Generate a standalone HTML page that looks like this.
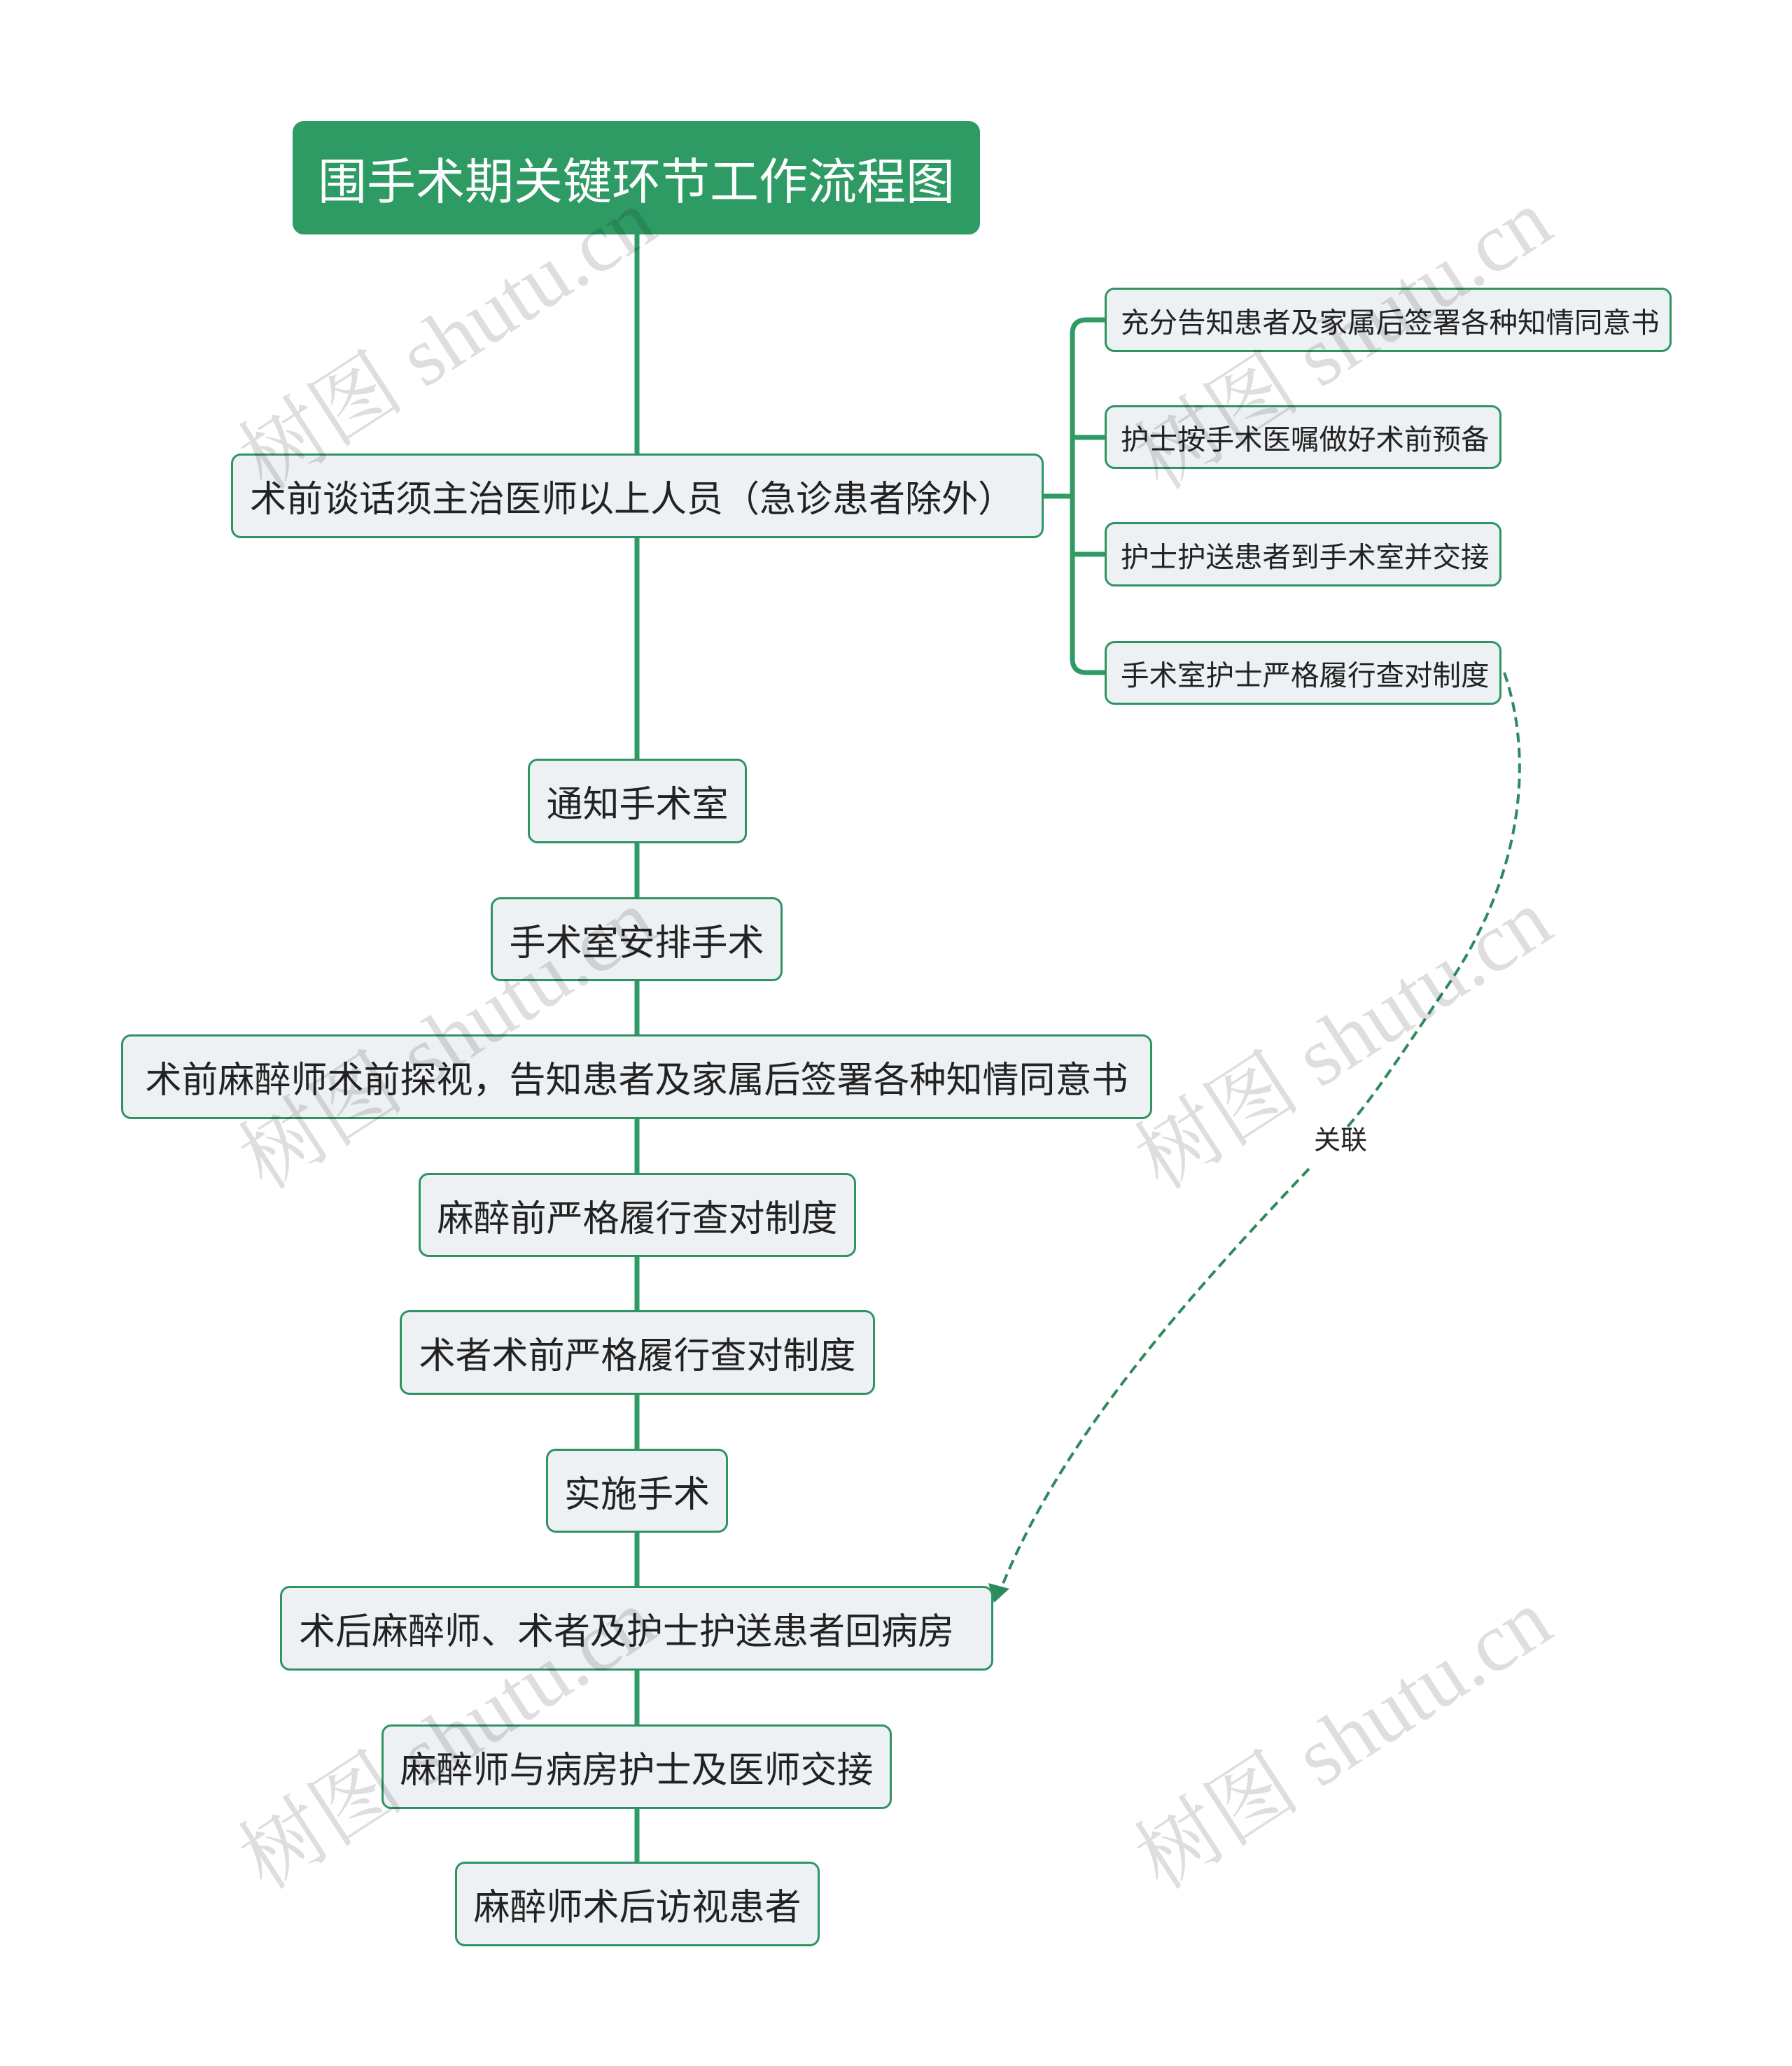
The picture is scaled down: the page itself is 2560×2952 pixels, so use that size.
<!DOCTYPE html>
<html><head><meta charset="utf-8">
<style>
html,body{margin:0;padding:0;background:#fff;}
body{width:2560px;height:2952px;position:relative;overflow:hidden;font-family:"Liberation Sans","Noto Sans CJK SC",sans-serif;}
.n{position:absolute;box-sizing:border-box;border:3px solid #2f9462;background:#eef1f4;border-radius:14px;color:#222;display:flex;align-items:center;justify-content:center;white-space:nowrap;font-size:52px;}
.s{font-size:40.5px;border-radius:14px;justify-content:flex-start;padding-left:20px;}
.t{background:#2e9a64;border-color:#2e9a64;color:#fff;font-size:70px;border-radius:16px;}
svg{position:absolute;left:0;top:0;}
.wm{position:absolute;font-family:"Liberation Serif","Noto Serif CJK SC",serif;font-size:120px;color:rgba(0,0,0,0.13);transform:rotate(-33deg);transform-origin:left bottom;white-space:nowrap;}
</style></head><body>
<svg width="2560" height="2952">
<g stroke="#2e9a64" stroke-width="7" fill="none">
<line x1="910" y1="335" x2="910" y2="2660"/>
<line x1="1491" y1="709" x2="1532" y2="709"/>
<path d="M1578 457 H1552 Q1532 457 1532 477 V941 Q1532 961 1552 961 H1578"/>
<line x1="1532" y1="625" x2="1578" y2="625"/>
<line x1="1532" y1="792" x2="1578" y2="792"/>
</g>
<path d="M2149 961 C2190 1080 2180 1250 2060 1420 C2000 1510 1960 1570 1925 1610" stroke="#2e8a5c" stroke-width="4" stroke-dasharray="14 8" fill="none"/>
<path d="M1870 1670 C1700 1850 1520 2050 1432 2265" stroke="#2e8a5c" stroke-width="4" stroke-dasharray="14 8" fill="none"/>
<polygon points="1420,2290 1412,2262 1442,2270" fill="#2e8a5c"/>
<text x="1915" y="1642" font-size="38" fill="#222" text-anchor="middle" font-family="Liberation Sans, Noto Sans CJK SC, sans-serif">关联</text>
</svg>
<div class="n t" style="left:418px;top:173px;width:982px;height:162px;">围手术期关键环节工作流程图</div>
<div class="n" style="left:330px;top:648px;width:1161px;height:121px;justify-content:flex-start;padding-left:24px;">术前谈话须主治医师以上人员（急诊患者除外）</div>
<div class="n s" style="left:1578px;top:411px;width:810px;height:92px;">充分告知患者及家属后签署各种知情同意书</div>
<div class="n s" style="left:1578px;top:579px;width:567px;height:91px;">护士按手术医嘱做好术前预备</div>
<div class="n s" style="left:1578px;top:746px;width:567px;height:92px;">护士护送患者到手术室并交接</div>
<div class="n s" style="left:1578px;top:916px;width:567px;height:91px;">手术室护士严格履行查对制度</div>
<div class="n" style="left:754px;top:1084px;width:313px;height:121px;">通知手术室</div>
<div class="n" style="left:701px;top:1282px;width:417px;height:120px;">手术室安排手术</div>
<div class="n" style="left:173px;top:1478px;width:1473px;height:121px;">术前麻醉师术前探视，告知患者及家属后签署各种知情同意书</div>
<div class="n" style="left:598px;top:1676px;width:625px;height:120px;">麻醉前严格履行查对制度</div>
<div class="n" style="left:571px;top:1872px;width:679px;height:121px;">术者术前严格履行查对制度</div>
<div class="n" style="left:780px;top:2070px;width:260px;height:120px;">实施手术</div>
<div class="n" style="left:400px;top:2266px;width:1019px;height:121px;justify-content:flex-start;padding-left:24px;">术后麻醉师、术者及护士护送患者回病房</div>
<div class="n" style="left:545px;top:2464px;width:729px;height:121px;">麻醉师与病房护士及医师交接</div>
<div class="n" style="left:650px;top:2660px;width:521px;height:121px;">麻醉师术后访视患者</div>
<div class="wm" style="left:398px;top:560px;">树图 shutu.cn</div>
<div class="wm" style="left:1678px;top:560px;">树图 shutu.cn</div>
<div class="wm" style="left:398px;top:1560px;">树图 shutu.cn</div>
<div class="wm" style="left:1678px;top:1560px;">树图 shutu.cn</div>
<div class="wm" style="left:398px;top:2560px;">树图 shutu.cn</div>
<div class="wm" style="left:1678px;top:2560px;">树图 shutu.cn</div>
</body></html>
